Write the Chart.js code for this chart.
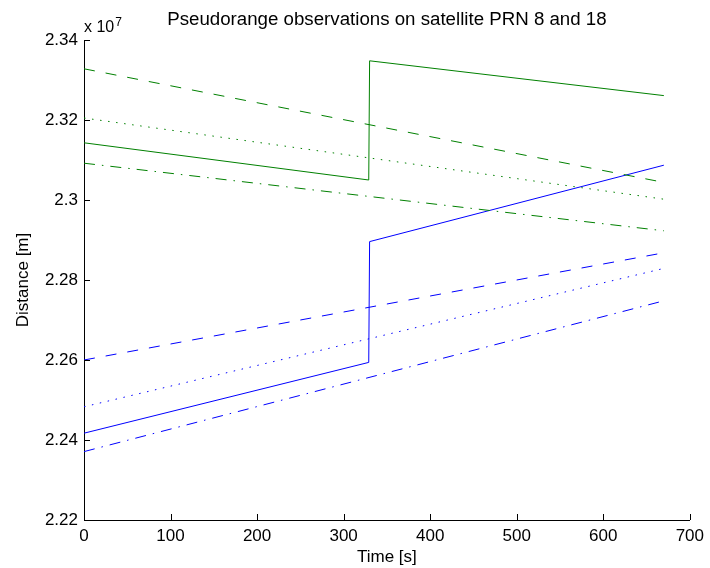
<!DOCTYPE html>
<html>
<head>
<meta charset="utf-8">
<script src="https://cdn.jsdelivr.net/npm/chart.js@4"></script>
<style>
  html, body { margin: 0; padding: 0; background: #fff; }
  #wrap { width: 710px; height: 568px; }
</style>
</head>
<body>
<div id="wrap"><canvas id="prChart"></canvas></div>
<script>
// Time axis [s]: solid lines jump at ~329 s, the others are straight
const timeJump = [0, 329, 330, 670];
const timeLine = [0, 670];

// PRN 18 (green) and PRN 8 (blue), distance in metres
const greenSolid   = [2.3143e7, 2.3050e7, 2.3348e7, 2.3261e7];
const greenDashed  = [2.3328e7, 2.3044e7];
const greenDotted  = [2.3205e7, 2.3002e7];
const greenDashDot = [2.3092e7, 2.2923e7];

const blueSolid    = [2.2417e7, 2.2594e7, 2.2896e7, 2.3087e7];
const blueDashed   = [2.2600e7, 2.2868e7];
const blueDotted   = [2.2483e7, 2.2829e7];
const blueDashDot  = [2.2371e7, 2.2748e7];

const xTickLabels = ["0", "100", "200", "300", "400", "500", "600", "700"];
const yTickLabels = ["2.22", "2.24", "2.26", "2.28", "2.3", "2.32", "2.34"];

const GREEN = "#008000";
const BLUE = "#0000ff";
const FONT = "'Liberation Sans', Arial, sans-serif";

const pts = (xs, ys) => xs.map((x, i) => ({ x: x, y: ys[i] }));

function series(label, xs, ys, color, dash) {
  return {
    label: label,
    data: pts(xs, ys),
    borderColor: color,
    borderWidth: 1,
    borderDash: dash,
    pointRadius: 0,
    tension: 0,
    fill: false
  };
}

const DASHED = [11, 11];
const DOTTED = [1.5, 6.6];
const DASHDOT = [11, 7, 1.5, 7];

// inward ticks, title and the x 10^7 multiplier, MATLAB style
const matlabDecor = {
  id: "matlabDecor",
  afterDraw(chart) {
    const ctx = chart.ctx;
    const area = chart.chartArea;
    const xs = chart.scales.x, ys = chart.scales.y;
    ctx.save();
    ctx.strokeStyle = "#000";
    ctx.lineWidth = 1;
    ctx.beginPath();
    xs.ticks.forEach(t => {
      const px = Math.round(xs.getPixelForValue(t.value)) + 0.5;
      ctx.moveTo(px, area.bottom);
      ctx.lineTo(px, area.bottom - 6);
    });
    ys.ticks.forEach(t => {
      const py = Math.round(ys.getPixelForValue(t.value)) + 0.5;
      ctx.moveTo(area.left, py);
      ctx.lineTo(area.left + 6, py);
    });
    ctx.stroke();

    ctx.fillStyle = "#000";
    ctx.textAlign = "center";
    ctx.textBaseline = "middle";
    ctx.font = "18.7px " + FONT;
    ctx.fillText("Pseudorange observations on satellite PRN 8 and 18", (area.left + area.right) / 2, 20);

    ctx.textAlign = "left";
    ctx.textBaseline = "alphabetic";
    ctx.font = "16px " + FONT;
    ctx.fillText("x 10", area.left, 32);
    const w = ctx.measureText("x 10").width;
    ctx.font = "12px " + FONT;
    ctx.fillText("7", area.left + w + 1, 26);
    ctx.restore();
  }
};

const ctx = document.getElementById("prChart").getContext("2d");
const chart = new Chart(ctx, {
  type: "line",
  data: {
    datasets: [
      series("PRN 18 solid", timeJump, greenSolid, GREEN, []),
      series("PRN 18 dashed", timeLine, greenDashed, GREEN, DASHED),
      series("PRN 18 dotted", timeLine, greenDotted, GREEN, DOTTED),
      series("PRN 18 dash-dot", timeLine, greenDashDot, GREEN, DASHDOT),
      series("PRN 8 solid", timeJump, blueSolid, BLUE, []),
      series("PRN 8 dashed", timeLine, blueDashed, BLUE, DASHED),
      series("PRN 8 dotted", timeLine, blueDotted, BLUE, DOTTED),
      series("PRN 8 dash-dot", timeLine, blueDashDot, BLUE, DASHDOT)
    ]
  },
  options: {
    responsive: true,
    maintainAspectRatio: false,
    animation: false,
    layout: { padding: { top: 40, right: 18.5, left: 0, bottom: 0 } },
    plugins: {
      legend: { display: false },
      title: { display: false },
      tooltip: { enabled: false }
    },
    scales: {
      x: {
        type: "linear",
        min: 0,
        max: 700,
        afterFit: s => { s.height = 48; },
        afterBuildTicks: s => { s.ticks = xTickLabels.map(v => ({ value: Number(v) })); },
        ticks: {
          color: "#000",
          padding: 6,
          maxRotation: 0,
          font: { family: FONT, size: 17 },
          callback: (v, i) => xTickLabels[i]
        },
        grid: { drawOnChartArea: false, drawTicks: false },
        border: { display: true, color: "#000", width: 1 },
        title: {
          display: true,
          text: "Time [s]",
          color: "#000",
          font: { family: FONT, size: 17 },
          padding: { top: 0, bottom: 0 }
        }
      },
      y: {
        type: "linear",
        min: 2.22e7,
        max: 2.34e7,
        afterFit: s => { s.width = 84; },
        afterBuildTicks: s => { s.ticks = yTickLabels.map(v => ({ value: Number(v) * 1e7 })); },
        ticks: {
          color: "#000",
          padding: 6,
          font: { family: FONT, size: 17 },
          callback: (v, i) => yTickLabels[i]
        },
        grid: { drawOnChartArea: false, drawTicks: false },
        border: { display: true, color: "#000", width: 1 },
        title: {
          display: true,
          text: "Distance [m]",
          color: "#000",
          font: { family: FONT, size: 17 },
          padding: { top: 13, bottom: 0 }
        }
      }
    }
  },
  plugins: [matlabDecor]
});
</script>
</body>
</html>
